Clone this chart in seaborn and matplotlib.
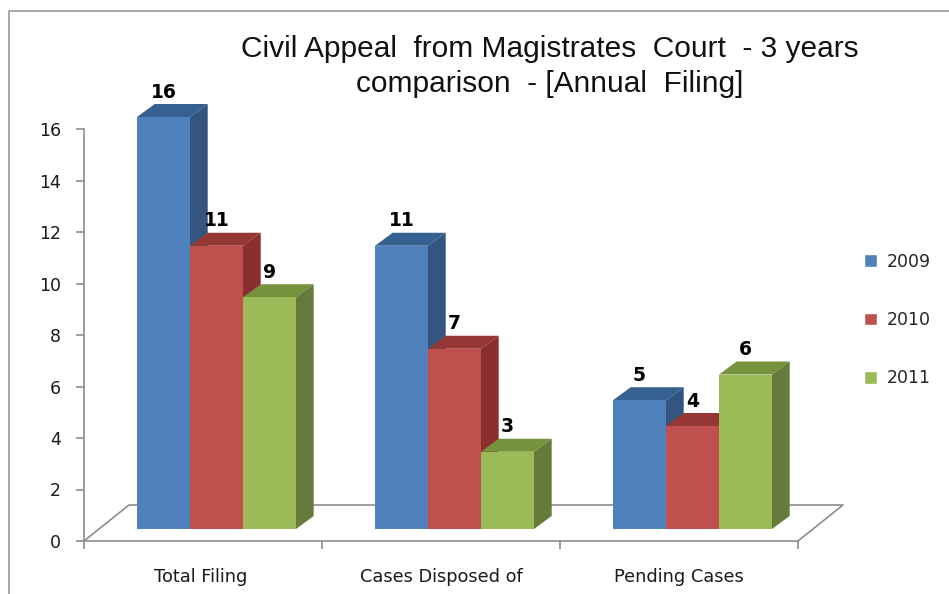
import pandas as pd
import matplotlib
matplotlib.use("Agg")
import matplotlib.pyplot as plt
import seaborn as sns
from matplotlib.lines import Line2D
from matplotlib.patches import Polygon

categories = ["Total Filing", "Cases Disposed of", "Pending Cases"]
years = ["2009", "2010", "2011"]
values_2009 = [16, 11, 5]
values_2010 = [11, 7, 4]
values_2011 = [9, 3, 6]
y_ticks = [0, 2, 4, 6, 8, 10, 12, 14, 16]
title_lines = ["Civil Appeal  from Magistrates  Court  - 3 years", "comparison  - [Annual  Filing]"]

front_colors = ["#4F81BD", "#C0504D", "#9BBB59"]
top_colors = ["#35608F", "#953735", "#76923C"]
side_colors = ["#34557F", "#8A2F2D", "#667A3C"]
grey = "#8C8C8C"

W, H = 949, 594

df = pd.DataFrame({
    "category": categories * 3,
    "year": [y for y in years for _ in categories],
    "value": values_2009 + values_2010 + values_2011,
})

sns.set_theme(style="white")
fig = plt.figure(figsize=(W / 100, H / 100), dpi=100, facecolor="white")


def rect(left, right, top, bottom):
    return [left / W, 1 - bottom / H, (right - left) / W, (bottom - top) / H]


# axes box with the floor, the bars sit on a second axes a bit up and to the right
frame = fig.add_axes(rect(84, 798, 129, 541))
frame.set_xlim(-0.5, 2.5)
frame.set_ylim(0, 16)
frame.patch.set_alpha(0)
sns.despine(ax=frame, top=True, right=True)
for s in ["left", "bottom"]:
    frame.spines[s].set_color(grey)
    frame.spines[s].set_linewidth(1.2)
frame.set_yticks(y_ticks)
frame.set_xticks([-0.5, 0.5, 1.5, 2.5], labels=["", "", "", ""])
frame.set_xticks([-0.01, 1, 2], labels=categories, minor=True)
frame.tick_params(axis="both", which="major", length=6, color=grey, width=1.2, left=True, bottom=True)
frame.tick_params(axis="x", which="minor", length=0, pad=19.5, labelsize=12.8, labelcolor="#1a1a1a")
frame.tick_params(axis="y", labelsize=12.5, labelcolor="#1a1a1a", pad=10.5)

floor_dx = 45 / 238
floor_dy = 36 / 25.75
frame.plot([-0.5, -0.5 + floor_dx, 2.5 + floor_dx, 2.5], [0, floor_dy, floor_dy, 0],
           color=grey, lw=1.2, clip_on=False)

ax = fig.add_axes(rect(97.5, 811.5, 117, 529))
ax.patch.set_alpha(0)
sns.barplot(data=df, x="category", y="value", hue="year", palette=front_colors,
            width=0.668, gap=0, saturation=1, ax=ax, legend=True)
ax.set_xlim(-0.5, 2.5)
ax.set_ylim(0, 16)
ax.axis("off")

depth_x = 17.7 / 238
depth_y = 13 / 25.75
for i, bars in enumerate(ax.containers):
    for p in bars:
        x0, w, h = p.get_x(), p.get_width(), p.get_height()
        x1 = x0 + w
        p.set_zorder(3 + i + 0.5)
        p.set_linewidth(0)
        top = Polygon([(x0, h), (x0 + depth_x, h + depth_y), (x1 + depth_x, h + depth_y), (x1, h)],
                      facecolor=top_colors[i], lw=0, zorder=3 + i, clip_on=False)
        side = Polygon([(x1, 0), (x1 + depth_x, depth_y), (x1 + depth_x, h + depth_y), (x1, h)],
                       facecolor=side_colors[i], lw=0, zorder=3 + i, clip_on=False)
        ax.add_patch(top)
        ax.add_patch(side)
    labels = ax.bar_label(bars, padding=11, fontsize=13.5, fontweight="bold", color="black")
    for t in labels:
        t.set_zorder(10)
        t.set_clip_on(False)

handles = ax.get_legend().legend_handles
ax.legend(handles, years, loc="center left", bbox_to_anchor=(864 / W, 1 - 320 / H),
          bbox_transform=fig.transFigure, frameon=False, fontsize=12.5,
          handlelength=0.75, handleheight=0.75, handletextpad=0.55,
          labelspacing=2.33, borderpad=0, borderaxespad=0)

fig.text(550 / W, 1 - 49 / H, title_lines[0], ha="center", va="center",
         family="Liberation Sans", fontsize=21.5, color="#111111")
fig.text(550 / W, 1 - 84 / H, title_lines[1], ha="center", va="center",
         family="Liberation Sans", fontsize=21.5, color="#111111")

# outer chart border, only left and top fall inside the picture
fig.add_artist(Line2D([9 / W, 9 / W, 1], [0, 1 - 11 / H, 1 - 11 / H], color="#A6A6A6", lw=1.4))

fig.savefig("out.png", dpi=100)
plt.close(fig)
